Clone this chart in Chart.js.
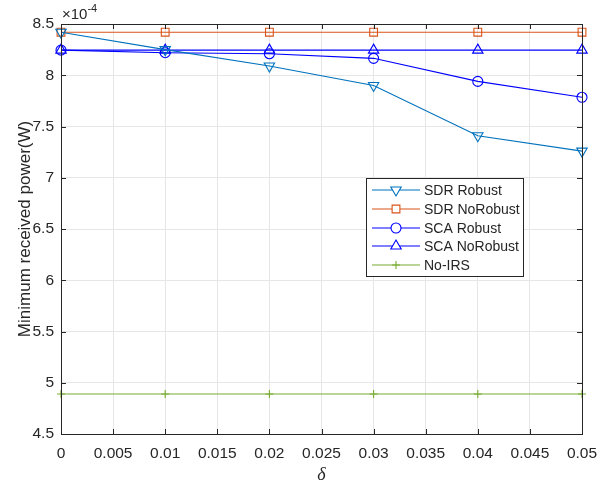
<!DOCTYPE html>
<html>
<head>
<meta charset="utf-8">
<script src="https://cdn.jsdelivr.net/npm/chart.js@4/dist/chart.umd.min.js"></script>
<style>
  html, body { margin: 0; padding: 0; background: #fff; }
  #wrap { width: 597px; height: 483px; }
</style>
</head>
<body>
<div id="wrap"><canvas id="myChart" width="597" height="483"></canvas></div>
<script>
// values are in units of 1e-4 W
const deltas = [0, 0.01, 0.02, 0.03, 0.04, 0.05];
const sdrRobust = [8.42, 8.25, 8.09, 7.90, 7.41, 7.26];
const sdrNoRobust = [8.42, 8.42, 8.42, 8.42, 8.42, 8.42];
const scaRobust = [8.245, 8.22, 8.21, 8.165, 7.94, 7.785];
const scaNoRobust = [8.245, 8.245, 8.245, 8.245, 8.245, 8.245];
const noIRS = [4.89, 4.89, 4.89, 4.89, 4.89, 4.89];

const seriesNames = ['SDR Robust', 'SDR NoRobust', 'SCA Robust', 'SCA NoRobust', 'No-IRS'];
const xTicks = [0, 0.005, 0.01, 0.015, 0.02, 0.025, 0.03, 0.035, 0.04, 0.045, 0.05];
const yTicks = [4.5, 5, 5.5, 6, 6.5, 7, 7.5, 8, 8.5];

const FONT = 'Liberation Sans, Arial, Helvetica, sans-serif';
const AXIS_COLOR = '#262626';

function toPoints(values) {
    return deltas.map((d, i) => ({ x: d, y: values[i] }));
}

function makeSet(label, values, color, style, radius, rotation) {
    return {
        label: label,
        data: toPoints(values),
        borderColor: color,
        backgroundColor: 'rgba(0,0,0,0)',
        borderWidth: 1.1,
        pointStyle: style,
        pointRadius: radius,
        pointHoverRadius: radius,
        pointRotation: rotation || 0,
        pointBorderColor: color,
        pointBackgroundColor: 'rgba(0,0,0,0)',
        pointBorderWidth: 1.1,
        tension: 0,
        fill: false,
        clip: false,
    };
}

const datasets = [
    makeSet(seriesNames[0], sdrRobust, '#0072BD', 'triangle', 6, 180),
    makeSet(seriesNames[1], sdrNoRobust, '#D95319', 'rect', 5.5),
    makeSet(seriesNames[2], scaRobust, '#0000FF', 'circle', 5),
    makeSet(seriesNames[3], scaNoRobust, '#0000FF', 'triangle', 6),
    makeSet(seriesNames[4], noIRS, '#77AC30', 'cross', 4),
];

// box, inward ticks, exponent label and legend inside the axes
const matlabAxes = {
    id: 'matlabAxes',
    afterDraw(chart) {
        const ctx = chart.ctx;
        const a = chart.chartArea;
        const xs = chart.scales.x;
        const ys = chart.scales.y;
        const tl = 5;

        ctx.save();
        ctx.strokeStyle = AXIS_COLOR;
        ctx.lineWidth = 1;
        ctx.beginPath();
        xTicks.forEach(v => {
            const px = Math.round(xs.getPixelForValue(v)) + 0.5;
            ctx.moveTo(px, a.bottom); ctx.lineTo(px, a.bottom - tl);
            ctx.moveTo(px, a.top); ctx.lineTo(px, a.top + tl);
        });
        yTicks.forEach(v => {
            const py = Math.round(ys.getPixelForValue(v)) + 0.5;
            ctx.moveTo(a.left, py); ctx.lineTo(a.left + tl, py);
            ctx.moveTo(a.right, py); ctx.lineTo(a.right - tl, py);
        });
        ctx.stroke();
        ctx.strokeRect(Math.round(a.left) + 0.5, Math.round(a.top) + 0.5,
            Math.round(a.right - a.left), Math.round(a.bottom - a.top));

        // exponent
        ctx.fillStyle = AXIS_COLOR;
        ctx.textBaseline = 'alphabetic';
        ctx.textAlign = 'left';
        ctx.font = '15px ' + FONT;
        ctx.fillText('\u00d710', a.left + 1, a.top - 5);
        const w = ctx.measureText('\u00d710').width;
        ctx.font = '11px ' + FONT;
        ctx.fillText('-4', a.left + 1 + w, a.top - 12);

        // legend
        const box = { x: 366.5, y: 178.5, w: 157, h: 98 };
        ctx.fillStyle = '#fff';
        ctx.fillRect(box.x, box.y, box.w, box.h);
        ctx.strokeStyle = AXIS_COLOR;
        ctx.strokeRect(box.x, box.y, box.w, box.h);
        ctx.font = '14px ' + FONT;
        ctx.textBaseline = 'middle';
        chart.data.datasets.forEach((ds, i) => {
            const ry = Math.round(190 + i * 18.75);
            ctx.strokeStyle = ds.borderColor;
            ctx.lineWidth = ds.borderWidth;
            ctx.beginPath();
            ctx.moveTo(372, ry); ctx.lineTo(420, ry);
            ctx.stroke();
            ctx.fillStyle = '#fff';
            Chart.helpers.drawPoint(ctx, {
                pointStyle: ds.pointStyle,
                rotation: ds.pointRotation,
                radius: ds.pointRadius,
                borderWidth: ds.pointBorderWidth,
            }, 396, ry);
            ctx.fillStyle = AXIS_COLOR;
            ctx.fillText(ds.label, 424, ry + 1);
        });
        ctx.restore();
    }
};

const ctx = document.getElementById('myChart').getContext('2d');
new Chart(ctx, {
    type: 'line',
    data: { datasets: datasets },
    options: {
        responsive: false,
        animation: false,
        events: [],
        layout: { padding: { top: 24, right: 0, left: 0, bottom: 0 } },
        plugins: {
            legend: { display: false },
            tooltip: { enabled: false },
        },
        scales: {
            x: {
                type: 'linear',
                min: 0,
                max: 0.05,
                afterFit: scale => {
                    scale.height = 49;
                    scale.paddingLeft = 0;
                    scale.paddingRight = 15;
                },
                afterBuildTicks: scale => { scale.ticks = xTicks.map(v => ({ value: v })); },
                ticks: {
                    color: AXIS_COLOR,
                    padding: 10,
                    maxRotation: 0,
                    autoSkip: false,
                    font: { family: FONT, size: 15.5 },
                    callback: v => String(+v.toFixed(3)),
                },
                grid: { color: '#e6e6e6', drawTicks: false, lineWidth: 1 },
                border: { display: false },
                title: {
                    display: true,
                    text: '\u03b4',
                    color: AXIS_COLOR,
                    padding: { top: 0, bottom: -1 },
                    font: { family: 'Liberation Serif, Times New Roman, serif', size: 18, style: 'italic', lineHeight: 1 },
                },
            },
            y: {
                type: 'linear',
                min: 4.5,
                max: 8.5,
                afterFit: scale => { scale.width = 61; },
                afterBuildTicks: scale => { scale.ticks = yTicks.map(v => ({ value: v })); },
                ticks: {
                    color: AXIS_COLOR,
                    padding: 7,
                    font: { family: FONT, size: 15.5 },
                    callback: v => String(+v.toFixed(1)),
                },
                grid: { color: '#e6e6e6', drawTicks: false, lineWidth: 1 },
                border: { display: false },
                title: {
                    display: true,
                    text: 'Minimum received power(W)',
                    color: AXIS_COLOR,
                    padding: { top: 15, bottom: 0 },
                    font: { family: FONT, size: 17, lineHeight: 1.2 },
                },
            },
        },
    },
    plugins: [matlabAxes],
});
</script>
</body>
</html>
